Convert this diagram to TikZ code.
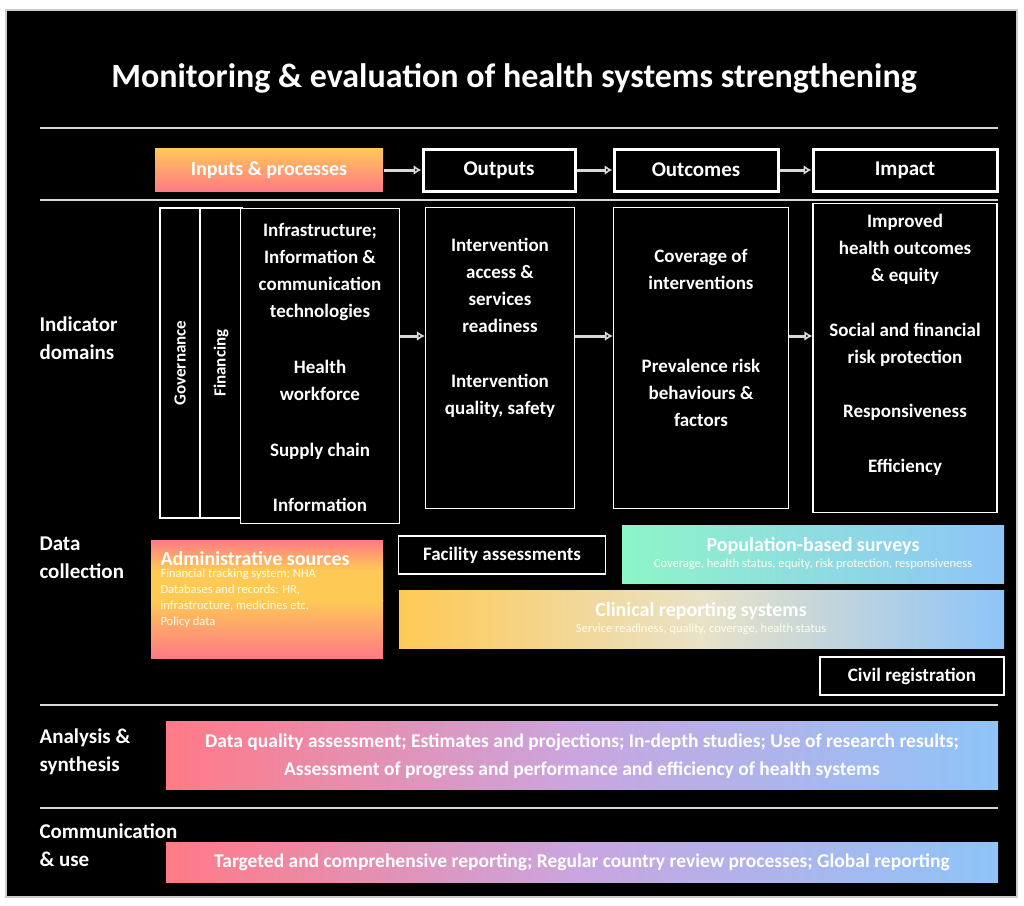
\documentclass[tikz,border=0pt]{standalone}
\usepackage{fontspec}
\setmainfont{Carlito}
\usetikzlibrary{positioning,arrows.meta}
\definecolor{pinkish}{HTML}{FF7A86}
\definecolor{yellowish}{HTML}{FFC955}
\definecolor{mintish}{HTML}{8EF5C8}
\definecolor{bluish}{HTML}{8EC4F8}
\definecolor{lilac}{HTML}{C9A6E0}
\tikzset{
  stage/.style={draw=white,line width=3pt,fill=black,text=white,font=\fontsize{21}{24}\selectfont\bfseries},
  dombox/.style={draw=white,line width=1.2pt,fill=black},
  domtext/.style={text=white,align=center,font=\fontsize{19}{27}\selectfont\bfseries},
  rowlabel/.style={anchor=west,text=white,align=left,font=\fontsize{21}{28}\selectfont\bfseries},
  flow/.style={-{Latex[open,length=8pt,width=10pt]},draw=white!85!black,line width=3pt},
  sep/.style={draw=white!85!black,line width=1.2pt},
  heading/.style={text=white,font=\fontsize{20}{24}\selectfont\bfseries},
  small/.style={text=white!92!yellow,font=\fontsize{12.5}{16}\selectfont,align=left}
}
\begin{document}
\begin{tikzpicture}[x=1pt,y=-1pt]
\useasboundingbox (0,0) rectangle (1024,905);
\fill[white] (0,0) rectangle (1024,905);
\draw[fill=black,draw=white!80!black,line width=1.5pt] (6,10) rectangle (1017,897);
% title and separators
\node[text=white,font=\fontsize{34}{38}\selectfont\bfseries] (title) at (514,78) {Monitoring \& evaluation of health systems strengthening};
\foreach \yy in {128,200,705,808} \draw[sep] (40,\yy) -- (998,\yy);
% stages
\shade[top color=yellowish,bottom color=pinkish] (155,148) rectangle (383,191);
\node[heading] (inputs) at (269,170) {Inputs \& processes};
\node[stage,minimum width=152pt,minimum height=42pt] (outputs) at (499,170) {Outputs};
\node[stage,minimum width=164pt,minimum height=42pt] (outcomes) at (696,170) {Outcomes};
\node[stage,minimum width=184pt,minimum height=42pt] (impact) at (905,170) {Impact};
\coordinate (inE) at (384,170);
\draw[flow] (inE) -- (outputs);
\draw[flow] (outputs) -- (outcomes);
\draw[flow] (outcomes) -- (impact);
% indicator domains
\node[dombox,minimum width=40pt,minimum height=310pt] (gov) at (180,363) {};
\node[text=white,rotate=90,font=\fontsize{17}{18}\selectfont\bfseries] at (gov) {Governance};
\node[dombox,minimum width=42pt,minimum height=310pt] (fin) at (221,363) {};
\node[text=white,rotate=90,font=\fontsize{17}{18}\selectfont\bfseries] at (fin) {Financing};
\node[dombox,minimum width=159pt,minimum height=315pt] (infra) at (320,366) {};
\node[domtext] (infraTxt) at (320,367)
  {Infrastructure;\\Information \&\\communication\\technologies\\[29pt]Health\\workforce\\[29pt]Supply chain\\[28pt]Information};
\node[dombox,minimum width=149pt,minimum height=301pt] (access) at (500,358) {};
\node[domtext] (accessTxt) at (500,328)
  {Intervention\\access \&\\services\\readiness\\[28pt]Intervention\\quality, safety};
\node[dombox,minimum width=175pt,minimum height=301pt] (coverage) at (701,358) {};
\node[domtext] (coverageTxt) at (701,338)
  {Coverage of\\interventions\\[56pt]Prevalence risk\\behaviours \&\\factors};
\node[dombox,minimum width=184pt,minimum height=309pt] (health) at (905,358) {};
\node[domtext] (healthTxt) at (905,345)
  {Improved\\health outcomes\\\& equity\\[28pt]Social and financial\\risk protection\\[27pt]Responsiveness\\[28pt]Efficiency};
\draw[flow] (infra.east |- 0,336) -- (access.west |- 0,336);
\draw[flow] (access.east |- 0,336) -- (coverage.west |- 0,336);
\draw[flow] (coverage.east |- 0,336) -- (health.west |- 0,336);
% row labels
\node[rowlabel] (lblInd) at (36,338) {Indicator\\domains};
\node[rowlabel] (lblData) at (36,558) {Data\\collection};
\node[rowlabel] (lblAna) at (36,752) {Analysis \&\\synthesis};
\node[rowlabel] (lblCom) at (36,845) {Communication\\\& use};
% data collection
\shade[top color=pinkish,bottom color=yellowish,middle color=yellowish] (151,540) rectangle (383,600);
\shade[top color=yellowish,bottom color=pinkish] (151,600) rectangle (383,658);
\node[heading,anchor=north west] (admin) at (157,548) {Administrative sources};
\node[small,below=-4pt of admin.south west,anchor=north west] (adminTxt)
  {Financial tracking system; NHA\\Databases and records: HR,\\infrastructure, medicines etc.\\Policy data};
\node[stage,line width=1.8pt,minimum width=207pt,minimum height=38pt,font=\fontsize{19}{22}\selectfont\bfseries] (facility) at (502,555) {Facility assessments};
\shade[left color=mintish,right color=bluish] (622,525) rectangle (1004,583);
\node[heading] (survey) at (813,546) {Population-based surveys};
\node[small,below=-3pt of survey] (surveyTxt) {Coverage, health status, equity, risk protection, responsiveness};
\shade[left color=yellowish,right color=bluish,middle color=white!60!yellowish!80!bluish] (399,590) rectangle (1004,648);
\node[heading] (clinical) at (701,611) {Clinical reporting systems};
\node[small,below=-3pt of clinical] (clinicalTxt) {Service readiness, quality, coverage, health status};
\node[stage,line width=1.8pt,minimum width=184pt,minimum height=38pt,font=\fontsize{19}{22}\selectfont\bfseries] (civil) at (912,676) {Civil registration};
% analysis and communication
\shade[left color=pinkish,right color=bluish,middle color=lilac] (166,721) rectangle (998,789);
\node[heading,align=center,font=\fontsize{19.5}{28}\selectfont\bfseries] (analysis) at (582,756)
  {Data quality assessment; Estimates and projections; In-depth studies; Use of research results;\\Assessment of progress and performance and efficiency of health systems};
\shade[left color=pinkish,right color=bluish,middle color=lilac] (166,842) rectangle (998,882);
\node[heading,font=\fontsize{19.5}{24}\selectfont\bfseries] (comm) at (582,862) {Targeted and comprehensive reporting; Regular country review processes; Global reporting};
\end{tikzpicture}
\end{document}
